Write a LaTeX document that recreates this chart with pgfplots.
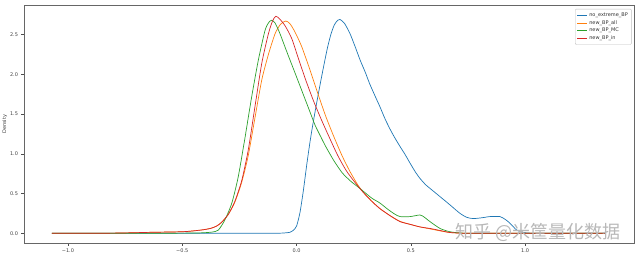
\documentclass[border=0pt]{standalone}
\usepackage{pgfplots}
\pgfplotsset{compat=1.18}
\usepackage{fontspec}
\setmainfont{DejaVu Sans}
\newfontfamily\cjk{Noto Sans CJK SC}
\definecolor{c1}{HTML}{1F77B4}
\definecolor{c2}{HTML}{FF7F0E}
\definecolor{c3}{HTML}{2CA02C}
\definecolor{c4}{HTML}{D62728}
\begin{document}
\begin{tikzpicture}
\begin{axis}[
  scale only axis, width=610pt, height=238pt,
  xmin=-1.192, xmax=1.476, ymin=-0.126, ymax=2.868,
  xtick={-1,-0.5,0,0.5,1}, ytick={0,0.5,1,1.5,2,2.5},
  xticklabels={−1.0,−0.5,0.0,0.5,1.0},
  yticklabels={0.0,0.5,1.0,1.5,2.0,2.5},
  tick label style={font=\fontsize{5}{6}\selectfont, text=black!75},
  tick align=outside, tick pos=left, major tick length=2.5pt,
  tick style={black!70, line width=0.4pt},
  axis line style={black!60, line width=0.5pt},
  ylabel={Density}, ylabel style={font=\fontsize{5}{6}\selectfont, text=black!75, yshift=-4pt},
  xticklabel style={yshift=1pt},
  legend style={at={(0.996,0.985)}, anchor=north east, font=\fontsize{5}{6}\selectfont,
    draw=black!25, rounded corners=1pt, row sep=-1.5pt, inner sep=1.5pt, text=black!80},
  legend cell align=left,
  legend image code/.code={\draw[#1, line width=0.6pt] (0cm,0cm) -- (0.35cm,0cm);},
  every axis plot/.append style={line width=0.7pt, smooth, tension=0.4},
]
\addplot[c1] coordinates {(-1.07,0) (-0.6,0) (-0.2,0) (-0.08,0.001) (-0.05,0.005) (-0.03,0.012) (-0.015,0.035) (0.0,0.09) (0.015,0.26) (0.03,0.54) (0.045,0.87) (0.06,1.17) (0.075,1.43) (0.09,1.67) (0.105,1.9) (0.12,2.12) (0.135,2.33) (0.15,2.5) (0.165,2.62) (0.18,2.68) (0.19,2.69) (0.21,2.64) (0.234,2.51) (0.256,2.35) (0.278,2.18) (0.3,2.03) (0.32,1.88) (0.343,1.73) (0.365,1.59) (0.387,1.44) (0.409,1.31) (0.43,1.2) (0.453,1.09) (0.475,0.99) (0.497,0.88) (0.52,0.77) (0.54,0.69) (0.565,0.61) (0.59,0.55) (0.628,0.46) (0.67,0.36) (0.715,0.25) (0.745,0.2) (0.773,0.185) (0.81,0.195) (0.846,0.21) (0.89,0.21) (0.915,0.17) (0.934,0.125) (0.963,0.04) (0.99,0.01) (1.03,0.001) (1.1,0) (1.35,0)};
\addlegendentry{no\_extreme\_BP}
\addplot[c2] coordinates {(-1.07,0) (-0.8,0.002) (-0.64,0.012) (-0.495,0.02) (-0.42,0.04) (-0.378,0.06) (-0.35,0.09) (-0.327,0.14) (-0.298,0.24) (-0.27,0.39) (-0.24,0.64) (-0.211,0.98) (-0.182,1.45) (-0.152,1.93) (-0.123,2.25) (-0.094,2.51) (-0.07,2.63) (-0.047,2.67) (-0.03,2.64) (-0.01,2.55) (0.021,2.36) (0.057,2.07) (0.093,1.76) (0.128,1.47) (0.164,1.21) (0.2,0.97) (0.235,0.77) (0.27,0.6) (0.3,0.49) (0.33,0.4) (0.365,0.31) (0.41,0.22) (0.453,0.15) (0.5,0.11) (0.54,0.08) (0.585,0.055) (0.628,0.03) (0.67,0.01) (0.72,0.002) (0.8,0) (1.35,0)};
\addlegendentry{new\_BP\_all}
\addplot[c3] coordinates {(-1.07,0) (-0.7,0) (-0.5,0.002) (-0.42,0.005) (-0.37,0.015) (-0.342,0.04) (-0.313,0.17) (-0.283,0.38) (-0.255,0.71) (-0.225,1.21) (-0.196,1.72) (-0.167,2.18) (-0.138,2.55) (-0.122,2.65) (-0.109,2.68) (-0.095,2.65) (-0.075,2.53) (-0.05,2.34) (-0.03,2.19) (-0.007,2.02) (0.021,1.81) (0.057,1.54) (0.081,1.36) (0.105,1.22) (0.128,1.09) (0.164,0.91) (0.2,0.76) (0.235,0.66) (0.27,0.58) (0.3,0.51) (0.33,0.44) (0.365,0.38) (0.4,0.3) (0.43,0.24) (0.453,0.21) (0.497,0.21) (0.54,0.23) (0.56,0.2) (0.584,0.146) (0.628,0.06) (0.67,0.02) (0.72,0.003) (0.8,0) (1.35,0)};
\addlegendentry{new\_BP\_MC}
\addplot[c4] coordinates {(-1.07,0) (-0.8,0.002) (-0.64,0.012) (-0.495,0.02) (-0.42,0.04) (-0.378,0.06) (-0.35,0.09) (-0.327,0.14) (-0.298,0.24) (-0.27,0.4) (-0.24,0.66) (-0.211,1.05) (-0.182,1.59) (-0.152,2.14) (-0.123,2.51) (-0.105,2.67) (-0.091,2.73) (-0.075,2.7) (-0.05,2.61) (-0.021,2.45) (0.008,2.2) (0.04,1.93) (0.075,1.66) (0.11,1.42) (0.146,1.19) (0.18,0.98) (0.217,0.79) (0.253,0.65) (0.29,0.52) (0.33,0.4) (0.365,0.31) (0.41,0.22) (0.453,0.146) (0.5,0.11) (0.54,0.08) (0.585,0.06) (0.628,0.035) (0.67,0.01) (0.72,0.002) (0.8,0) (1.35,0)};
\addlegendentry{new\_BP\_in}
\node[anchor=center, text=black!28, font=\cjk\fontsize{18}{18}\selectfont, inner sep=0pt] at (rel axis cs:0.842,0.045) {知乎 @米筐量化数据};
\end{axis}
\pgfresetboundingbox
\path (-24pt,-13.7pt) rectangle (616pt,243.3pt);
\end{tikzpicture}
\end{document}
